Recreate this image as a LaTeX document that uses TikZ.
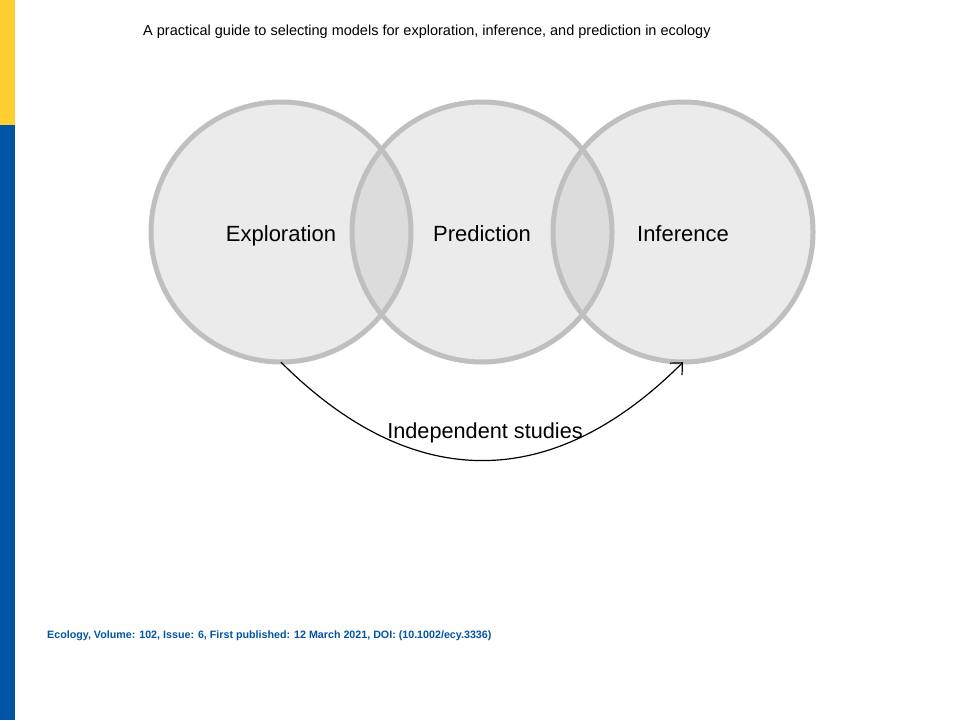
\documentclass[tikz,border=0pt]{standalone}
\usepackage{fontspec}
\setmainfont{Liberation Sans}
\usepackage{xcolor}
\usepackage{tikz}
\usetikzlibrary{arrows.meta}
\usetikzlibrary{positioning}

\definecolor{barblue}{RGB}{0,84,164}
\definecolor{baryellow}{RGB}{255,206,51}
\definecolor{vennfill}{RGB}{235,235,235}
\definecolor{lensfill}{RGB}{220,220,220}
\definecolor{vennline}{RGB}{191,191,191}

\begin{document}
\begin{tikzpicture}[
    x=1pt, y=-1pt,
    venn/.style={circle, fill=vennfill, minimum size=260pt, inner sep=0pt,
        text height=18pt, text depth=0pt, font=\fontsize{22}{26}\selectfont},
    vennedge/.style={draw=vennline, line width=5pt},
    title/.style={anchor=base west, inner sep=0pt, font=\fontsize{14.5}{17}\selectfont},
    source/.style={anchor=base west, inner sep=0pt, text=barblue,
        font=\fontsize{10.7}{13}\selectfont\bfseries},
    studies/.style={draw, line width=1.2pt, -{Straight Barb[length=9pt, width=17pt]}},
]
\useasboundingbox (0,0) rectangle (960,720);

% side bar
\fill[baryellow] (0,0) rectangle (15,125);
\fill[barblue] (0,125) rectangle (15,720);

\node[title] (heading) at (143,35)
    {A practical guide to selecting models for exploration, inference, and prediction in ecology};

% circles
\node[venn] (expl) at (281,232) {Exploration};
\node[venn] (pred) at (482,232) {Prediction};
\node[venn] (infe) at (683,232) {Inference};

% overlaps
\begin{scope}
    \clip (expl) circle (130pt);
    \fill[lensfill] (pred) circle (130pt);
\end{scope}
\begin{scope}
    \clip (pred) circle (130pt);
    \fill[lensfill] (infe) circle (130pt);
\end{scope}

\foreach \n in {expl, pred, infe}
    \draw[vennedge] (\n) circle (130pt);

\draw[studies] (expl.south) .. controls +(131,131) and +(-131,131) .. (infe.south);
\node[anchor=base, inner sep=0pt, font=\fontsize{21.7}{26}\selectfont] (label) at (485,438)
    {Independent studies};

\node[source] (doi) at (47,638)
    {Ecology, Volume: 102, Issue: 6, First published: 12 March 2021, DOI: (10.1002/ecy.3336)};

\end{tikzpicture}
\end{document}
